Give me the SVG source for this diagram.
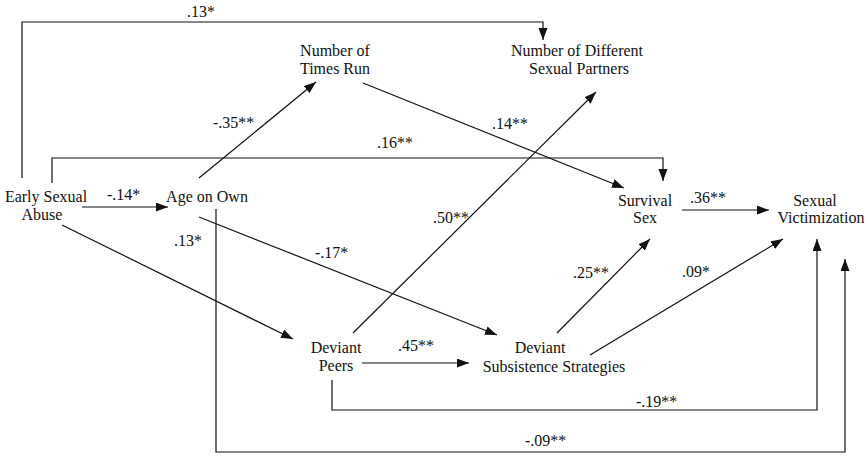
<svg xmlns="http://www.w3.org/2000/svg" width="868" height="456" viewBox="0 0 868 456">
<style>
.n{font-family:"Liberation Serif","Times New Roman",serif;font-size:16px;fill:#111;text-anchor:middle}
.l{font-family:"Liberation Serif","Times New Roman",serif;font-size:16px;fill:#111}
.c{fill:none;stroke:#111;stroke-width:1.2}
</style>
<defs>
<marker id="ah" markerUnits="userSpaceOnUse" markerWidth="13" markerHeight="10" refX="12" refY="4.5" orient="auto">
<path d="M0,0 L12,4.5 L0,9 z" fill="#111"/>
</marker>
</defs>
<rect width="868" height="456" fill="#fff"/>
<g id="connectors">
<path class="c" d="M22,178 V22 H543 V40" marker-end="url(#ah)"/>
<path class="c" d="M52,183 V158 H663 V181" marker-end="url(#ah)"/>
<path class="c" d="M82,207 H168" marker-end="url(#ah)"/>
<path class="c" d="M62,225 L293,339" marker-end="url(#ah)"/>
<path class="c" d="M199,178 L316,82" marker-end="url(#ah)"/>
<path class="c" d="M199,217 L497,335" marker-end="url(#ah)"/>
<path class="c" d="M216,209 V452 H845 V259" marker-end="url(#ah)"/>
<path class="c" d="M363,83 L624,188" marker-end="url(#ah)"/>
<path class="c" d="M353,333 L596,92" marker-end="url(#ah)"/>
<path class="c" d="M557,333 L650,239" marker-end="url(#ah)"/>
<path class="c" d="M590,355 L783,239" marker-end="url(#ah)"/>
<path class="c" d="M682,210 H769" marker-end="url(#ah)"/>
<path class="c" d="M362,363 H469" marker-end="url(#ah)"/>
<path class="c" d="M332,380 V410 H817 V239" marker-end="url(#ah)"/>
</g>
<g id="labels">
<text class="l" x="187" y="17">.13*</text>
<text class="l" x="377" y="148">.16**</text>
<text class="l" x="107" y="200">-.14*</text>
<text class="l" x="213" y="128">-.35**</text>
<text class="l" x="492" y="129">.14**</text>
<text class="l" x="690" y="203">.36**</text>
<text class="l" x="174" y="246">.13*</text>
<text class="l" x="315" y="258">-.17*</text>
<text class="l" x="433" y="223">.50**</text>
<text class="l" x="573" y="278">.25**</text>
<text class="l" x="682" y="277">.09*</text>
<text class="l" x="398" y="351">.45**</text>
<text class="l" x="636" y="407">-.19**</text>
<text class="l" x="525" y="446">-.09**</text>
</g>
<g id="early-sexual-abuse">
<text class="n" x="46" y="202">Early Sexual</text>
<text class="n" x="42" y="220">Abuse</text>
</g>
<g id="age-on-own">
<text class="n" x="207" y="202">Age on Own</text>
</g>
<g id="number-of-times-run">
<text class="n" x="335" y="56">Number of</text>
<text class="n" x="335" y="74">Times Run</text>
</g>
<g id="number-of-different-sexual-partners">
<text class="n" x="577" y="56">Number of Different</text>
<text class="n" x="579" y="74">Sexual Partners</text>
</g>
<g id="survival-sex">
<text class="n" x="645" y="206">Survival</text>
<text class="n" x="645" y="223">Sex</text>
</g>
<g id="sexual-victimization">
<text class="n" x="815" y="206">Sexual</text>
<text class="n" x="821" y="223">Victimization</text>
</g>
<g id="deviant-peers">
<text class="n" x="336" y="353">Deviant</text>
<text class="n" x="336" y="371">Peers</text>
</g>
<g id="deviant-subsistence-strategies">
<text class="n" x="540" y="353">Deviant</text>
<text class="n" x="554" y="372">Subsistence Strategies</text>
</g>
</svg>
